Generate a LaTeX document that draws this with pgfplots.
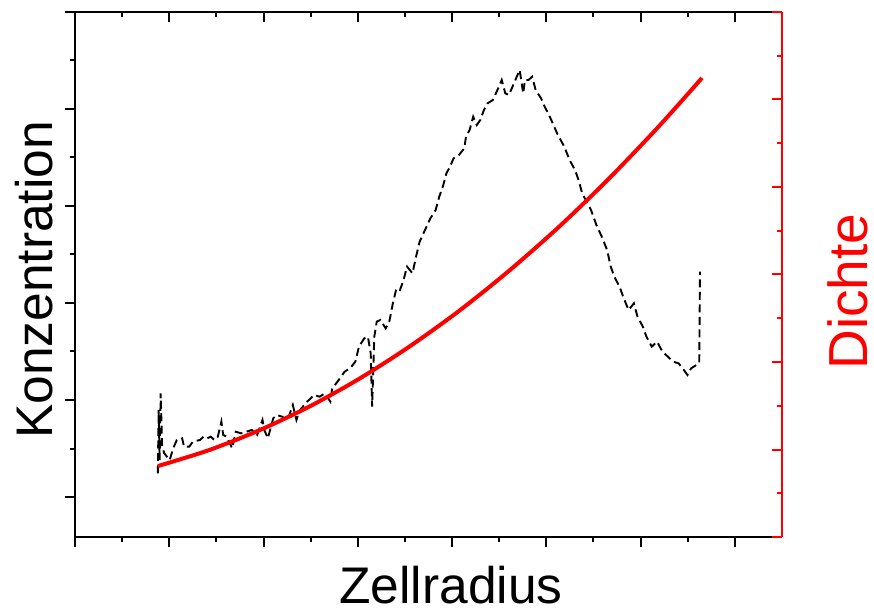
\documentclass[border=0pt]{standalone}
\usepackage{pgfplots}
\pgfplotsset{compat=1.18}
\usepackage{fontspec}
\setmainfont{Liberation Sans}
\definecolor{myred}{RGB}{255,0,0}
\begin{document}
\begin{tikzpicture}
\pgfplotsset{
  base/.style={
    scale only axis, width=707pt, height=525pt,
    at={(0pt,0pt)}, anchor=south west,
    xmin=0, xmax=7.5,
    xtick={0,...,7}, minor x tick num=1,
    xticklabels={}, yticklabels={},
    major tick length=10pt, minor tick length=5pt,
    axis line style={line width=2pt,-},
    every tick/.style={line width=2pt},
    clip=false,
  }
}
% bottom + left axis, ticks outside, black dashed series
\begin{axis}[base,
  axis x line*=bottom, axis y line*=left,
  tick align=outside,
  ymin=0.5876, ymax=6,
  ytick={1,...,6}, minor y tick num=1,
  every tick/.style={line width=2pt,black},
]
\addplot[black, line width=1.9pt, dash pattern=on 8pt off 4.5pt] coordinates {
(0.879,1.244)(0.887,1.897)(0.898,1.381)(0.909,2.069)(0.924,1.519)(0.947,1.450)
(1.004,1.381)(1.042,1.502)(1.080,1.588)(1.137,1.605)(1.156,1.519)(1.212,1.519)
(1.250,1.570)(1.326,1.588)(1.364,1.622)(1.402,1.605)(1.440,1.622)(1.478,1.588)
(1.515,1.622)(1.553,1.777)(1.572,1.639)(1.610,1.622)(1.667,1.502)(1.705,1.673)
(1.762,1.656)(1.818,1.673)(1.875,1.691)(1.932,1.639)(1.989,1.794)(2.008,1.691)
(2.046,1.605)(2.103,1.811)(2.141,1.845)(2.197,1.828)(2.254,1.794)(2.311,1.948)
(2.349,1.794)(2.387,1.897)(2.463,1.983)(2.538,2.052)(2.595,2.034)(2.652,2.069)
(2.709,1.983)(2.728,2.120)(2.785,2.189)(2.860,2.292)(2.917,2.326)(2.974,2.395)
(3.012,2.550)(3.069,2.636)(3.107,2.653)(3.137,2.481)(3.152,1.931)(3.175,2.653)
(3.201,2.808)(3.239,2.825)(3.296,2.739)(3.334,2.808)(3.372,2.997)(3.410,3.151)
(3.448,3.134)(3.485,3.237)(3.523,3.375)(3.580,3.306)(3.618,3.478)(3.656,3.632)
(3.713,3.753)(3.770,3.873)(3.826,3.959)(3.864,4.096)(3.902,4.199)(3.940,4.337)
(3.978,4.405)(4.016,4.491)(4.073,4.526)(4.129,4.594)(4.148,4.715)(4.186,4.783)
(4.224,4.921)(4.262,4.835)(4.300,4.887)(4.338,4.990)(4.376,5.058)(4.433,5.093)
(4.489,5.213)(4.527,5.299)(4.565,5.161)(4.603,5.144)(4.641,5.230)(4.679,5.316)
(4.717,5.402)(4.755,5.161)(4.773,5.299)(4.811,5.299)(4.849,5.333)(4.887,5.196)
(4.944,5.110)(4.982,5.024)(5.020,4.955)(5.076,4.835)(5.114,4.749)(5.152,4.680)
(5.190,4.612)(5.247,4.474)(5.304,4.371)(5.342,4.268)(5.380,4.131)(5.418,4.062)
(5.474,3.959)(5.531,3.804)(5.588,3.684)(5.645,3.546)(5.683,3.375)(5.721,3.271)
(5.777,3.168)(5.815,3.065)(5.872,2.928)(5.929,2.996)(5.967,2.859)(6.024,2.756)
(6.062,2.653)(6.118,2.550)(6.175,2.601)(6.232,2.498)(6.289,2.447)(6.346,2.395)
(6.403,2.378)(6.459,2.309)(6.497,2.258)(6.535,2.326)(6.592,2.361)(6.622,2.378)
(6.630,3.323)
};
\end{axis}
% top axis, ticks inside
\begin{axis}[base,
  axis x line*=top, hide y axis,
  tick align=inside,
  ymin=0, ymax=1,
  every tick/.style={line width=2pt,black},
]
\end{axis}
% right axis, red, ticks inside
\begin{axis}[base,
  axis y line*=right, hide x axis,
  tick align=inside,
  ymin=0, ymax=6,
  ytick={0,...,6}, minor y tick num=1,
  axis line style={line width=2pt,-,myred},
  every tick/.style={line width=2pt,myred},
]
\addplot[myred, line width=4pt, smooth] coordinates {
(0.880,0.811)(1.411,0.989)(1.941,1.213)(2.472,1.483)(3.002,1.800)(3.532,2.165)
(4.063,2.575)(4.593,3.032)(5.124,3.535)(5.654,4.085)(6.184,4.682)(6.651,5.246)
};
\end{axis}
\node[rotate=90, anchor=base, inner sep=0pt, font=\fontsize{51.5}{60}\selectfont] at (-23pt,257pt) {Konzentration};
\node[anchor=base, inner sep=0pt, font=\fontsize{51.5}{60}\selectfont] at (376pt,-66pt) {Zellradius};
\node[rotate=90, anchor=base, inner sep=0pt, text=myred, font=\fontsize{55}{64}\selectfont] at (792pt,245.5pt) {Dichte};
\pgfresetboundingbox
\path[use as bounding box] (-75pt,-76pt) rectangle (799pt,537pt);
\end{tikzpicture}
\end{document}
